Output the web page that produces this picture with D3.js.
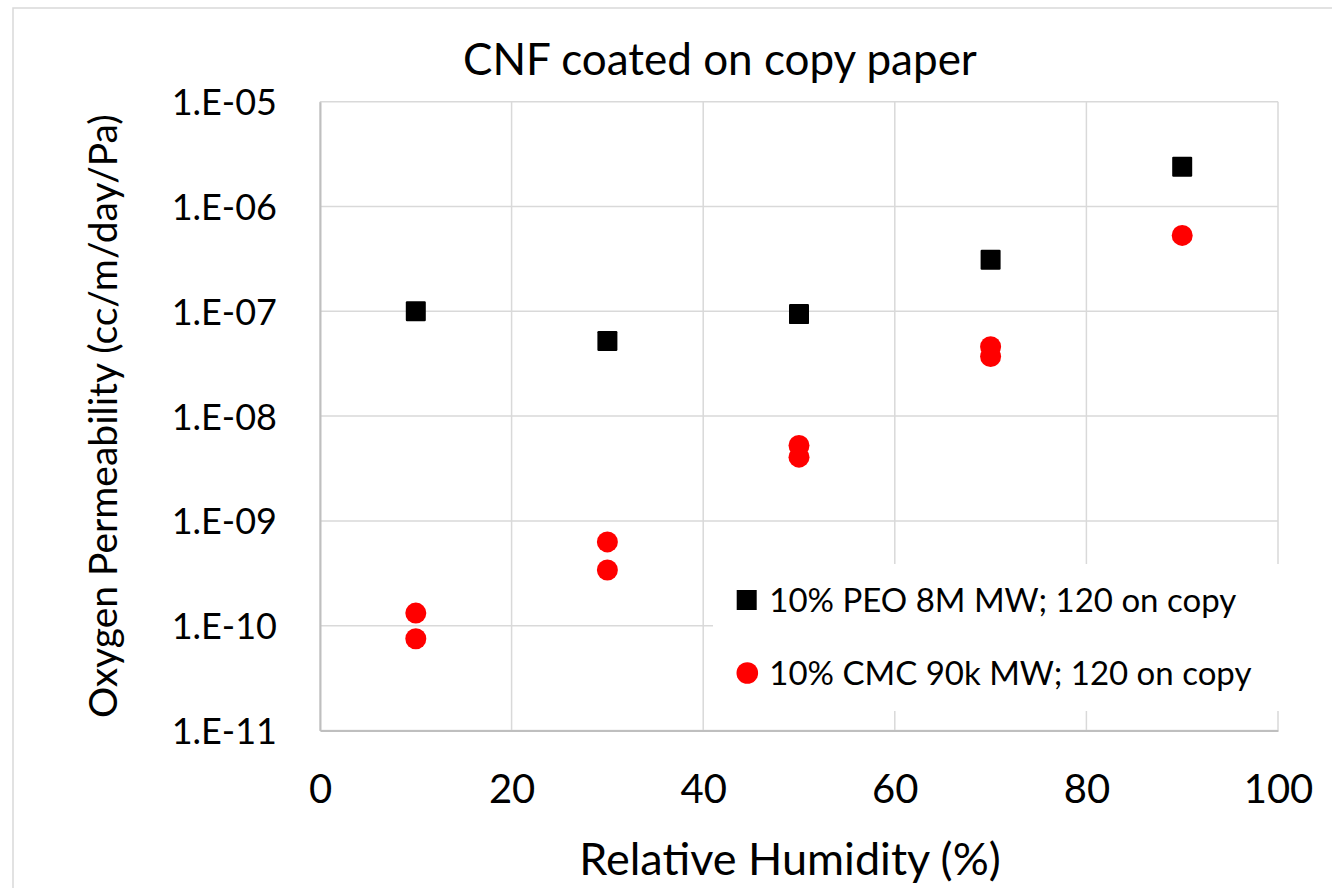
<!DOCTYPE html>
<html>
<head>
<meta charset="utf-8">
<script src="https://cdn.jsdelivr.net/npm/d3@7"></script>
<style>
  html, body { margin: 0; padding: 0; background: #fff; }
  svg { display: block; font-family: Lato, "Open Sans", sans-serif; }
</style>
</head>
<body>
<svg id="chart" width="1332" height="888"></svg>
<script>
// Relative humidity levels (%) at which permeability was measured
const humidityPEO = [10, 30, 50, 70, 90];
// Oxygen permeability, cc/m/day/Pa — 10% PEO 8M MW; 120 on copy
const permeabilityPEO = [1.0e-7, 5.2e-8, 9.4e-8, 3.1e-7, 2.4e-6];

// 10% CMC 90k MW; 120 on copy — duplicate samples at each humidity
const humidityCMC = [10, 10, 30, 30, 50, 50, 70, 70, 90];
const permeabilityCMC = [1.32e-10, 7.5e-11, 6.3e-10, 3.4e-10, 5.25e-9, 4.06e-9, 4.6e-8, 3.7e-8, 5.3e-7];

const xTicks = [0, 20, 40, 60, 80, 100];
const yTicks = [1e-5, 1e-6, 1e-7, 1e-8, 1e-9, 1e-10, 1e-11];
const yTickLabels = ["1.E-05", "1.E-06", "1.E-07", "1.E-08", "1.E-09", "1.E-10", "1.E-11"];
const seriesNames = ["10% PEO 8M MW; 120 on copy", "10% CMC 90k MW; 120 on copy"];
const seriesColors = ["#000000", "#ff0000"];

const chartTitle = "CNF coated on copy paper";
const xTitle = "Relative Humidity (%)";
const yTitle = "Oxygen Permeability (cc/m/day/Pa)";

const svg = d3.select("#chart");
const plot = { left: 320, right: 1278, top: 101.7, bottom: 730.5 };

const x = d3.scaleLinear().domain([0, 100]).range([plot.left, plot.right]);
const y = d3.scaleLog().domain([1e-11, 1e-5]).range([plot.bottom, plot.top]);

// outer chart frame
svg.append("rect")
  .attr("x", 13).attr("y", 8).attr("width", 1400).attr("height", 950)
  .attr("fill", "#fff").attr("stroke", "#d9d9d9").attr("stroke-width", 1.5);

// gridlines
const grid = svg.append("g");
grid.selectAll("line.h").data(yTicks).join("line")
  .attr("x1", plot.left).attr("x2", plot.right)
  .attr("y1", d => y(d)).attr("y2", d => y(d))
  .attr("stroke", "#d9d9d9").attr("stroke-width", 1.5);
grid.selectAll("line.v").data(xTicks).join("line")
  .attr("y1", plot.top).attr("y2", plot.bottom)
  .attr("x1", d => x(d)).attr("x2", d => x(d))
  .attr("stroke", "#d9d9d9").attr("stroke-width", 1.5);

// axes (lines + labels)
const xAxis = d3.axisBottom(x).tickValues(xTicks).tickSize(0).tickPadding(44).tickFormat(d3.format("d"));
const yAxis = d3.axisLeft(y).tickValues(yTicks).tickSize(0).tickPadding(43)
  .tickFormat((d, i) => yTickLabels[i]);

const gx = svg.append("g").attr("transform", `translate(0,${plot.bottom})`).call(xAxis);
gx.select(".domain").attr("stroke", "#bfbfbf").attr("stroke-width", 2);
gx.selectAll("text").attr("font-size", 40).attr("fill", "#000").attr("font-family", "Lato");

const gy = svg.append("g").attr("transform", `translate(${plot.left},0)`).call(yAxis);
gy.select(".domain").attr("stroke", "#bfbfbf").attr("stroke-width", 2);
gy.selectAll("text").attr("font-size", 36).attr("fill", "#000").attr("font-family", "Lato")
  .attr("dy", "0.36em");

// series markers
const peo = humidityPEO.map((h, i) => ({ h, p: permeabilityPEO[i] }));
const cmc = humidityCMC.map((h, i) => ({ h, p: permeabilityCMC[i] }));
const sq = 20;

svg.append("g").selectAll("circle").data(cmc).join("circle")
  .attr("cx", d => x(d.h)).attr("cy", d => y(d.p)).attr("r", 10.5)
  .attr("fill", seriesColors[1]);

svg.append("g").selectAll("rect").data(peo).join("rect")
  .attr("x", d => x(d.h) - sq / 2).attr("y", d => y(d.p) - sq / 2)
  .attr("width", sq).attr("height", sq).attr("rx", 1.2)
  .attr("fill", seriesColors[0]);

// legend
const legend = svg.append("g").attr("transform", "translate(713,564)");
legend.append("rect").attr("width", 570).attr("height", 147).attr("fill", "#fff");
const items = legend.selectAll("g.item").data(seriesNames).join("g")
  .attr("transform", (d, i) => `translate(0,${36 + i * 73})`);
items.each(function (d, i) {
  const g = d3.select(this);
  if (i === 0) {
    g.append("rect").attr("x", 23.7).attr("y", -10).attr("width", sq).attr("height", sq)
      .attr("fill", seriesColors[0]);
  } else {
    g.append("circle").attr("cx", 34.3).attr("cy", 0).attr("r", 10.8).attr("fill", seriesColors[1]);
  }
  g.append("text").attr("x", 56.3).attr("y", 11.5)
    .attr("font-size", 33).attr("fill", "#000").text(d);
});

// titles
svg.append("text").attr("x", 720).attr("y", 75).attr("text-anchor", "middle")
  .attr("font-size", 44).attr("fill", "#000").text(chartTitle);

svg.append("text").attr("x", 790).attr("y", 875).attr("text-anchor", "middle")
  .attr("font-size", 45).attr("fill", "#000").text(xTitle);

svg.append("text")
  .attr("transform", `translate(117,${(plot.top + plot.bottom) / 2}) rotate(-90)`)
  .attr("text-anchor", "middle")
  .attr("font-size", 39).attr("fill", "#000").text(yTitle);
</script>
</body>
</html>
